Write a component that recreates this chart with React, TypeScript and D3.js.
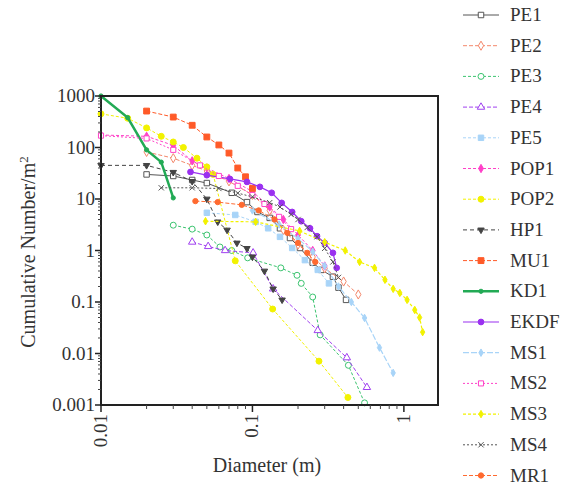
import * as d3 from "d3";

// diameter (m), cumulative number per m2
const PE1 = [[0.02,30],[0.03,28],[0.04,23.4],[0.05,20.4],[0.073,13.2],[0.092,8.7],[0.108,5.6],[0.13,4.3],[0.152,2.7],[0.177,1.75],[0.206,1.12],[0.25,0.58],[0.285,0.42],[0.34,0.31],[0.37,0.19],[0.415,0.11]];
const PE2 = [[0.02,82],[0.03,62],[0.04,45],[0.05,35],[0.07,22],[0.1,12],[0.13,6],[0.16,2.5],[0.2,1.3],[0.25,0.75],[0.3,0.45],[0.4,0.25],[0.5,0.14]];
const PE3 = [[0.03,3.1],[0.04,2.6],[0.05,2.0],[0.061,1.17],[0.073,1.0],[0.093,0.72],[0.154,0.46],[0.197,0.33],[0.21,0.23],[0.25,0.125],[0.28,0.023],[0.43,0.0059],[0.55,0.0011]];
const PE4 = [[0.04,1.46],[0.051,1.2],[0.066,1.0],[0.101,0.9],[0.137,0.18],[0.27,0.028],[0.42,0.0083],[0.57,0.0022]];
const PE5 = [[0.05,5.4],[0.077,4.9],[0.105,3.6],[0.127,2.7],[0.152,1.84],[0.183,1.12],[0.222,0.65],[0.27,0.42],[0.32,0.23]];
const POP1 = [[0.01,175],[0.02,165],[0.03,110],[0.04,55],[0.05,40],[0.07,25],[0.1,14],[0.13,7],[0.16,4],[0.2,2],[0.25,1.0],[0.3,0.5]];
const POP2 = [[0.01,450],[0.015,370],[0.02,240],[0.025,165],[0.03,128],[0.035,100],[0.043,62],[0.05,42],[0.055,30],[0.077,0.63],[0.136,0.073],[0.275,0.0071],[0.427,0.0014]];
const HP1 = [[0.01,45],[0.02,45],[0.03,33],[0.04,22],[0.05,10],[0.059,3.6],[0.068,2.5],[0.079,1.4],[0.092,1.1],[0.1,0.75],[0.12,0.4],[0.137,0.18],[0.157,0.11]];
const MU1 = [[0.02,510],[0.03,390],[0.04,270],[0.05,160],[0.06,112],[0.07,78],[0.08,40],[0.09,27],[0.1,16]];
const KD1 = [[0.01,1000],[0.015,380],[0.02,90],[0.025,52],[0.03,10.5]];
const EKDF = [[0.039,33.5],[0.05,29],[0.071,24.5],[0.092,21.5],[0.112,17.2],[0.134,13.2],[0.156,8.4],[0.183,5.6],[0.21,3.7],[0.24,2.7],[0.267,1.9],[0.3,1.4],[0.34,0.9],[0.36,0.46]];
const MS1 = [[0.1,6],[0.15,3.2],[0.2,1.7],[0.25,0.95],[0.3,0.5],[0.37,0.2],[0.45,0.1],[0.55,0.049],[0.69,0.013],[0.85,0.0042]];
const MS2 = [[0.01,170],[0.02,150],[0.03,90],[0.045,45],[0.06,28],[0.08,18],[0.1,12],[0.12,8],[0.15,4.5],[0.18,2.6]];
const MS3 = [[0.049,3.7],[0.105,3.6],[0.205,2.4],[0.3,1.45],[0.41,1.0],[0.51,0.6],[0.64,0.46],[0.75,0.27],[0.85,0.18],[0.94,0.15],[1.05,0.11],[1.18,0.07],[1.27,0.05],[1.33,0.026]];
const MS4 = [[0.025,16.5],[0.04,16.5],[0.06,16],[0.08,13],[0.1,11],[0.13,8.5],[0.152,7],[0.18,5],[0.2,4],[0.23,2.8],[0.267,1.85],[0.3,1.1],[0.34,0.6],[0.37,0.3]];
const MR1 = [[0.042,9.1],[0.059,8.7],[0.085,7.7],[0.11,6],[0.14,4],[0.17,2.2],[0.2,1.4],[0.23,0.9],[0.26,0.6]];

const yTicks = [1000, 100, 10, 1, 0.1, 0.01, 0.001];
const yTickLabels = ["1000", "100", "10", "1", "0.1", "0.01", "0.001"];
const xTicks = [0.01, 0.1, 1];
const xTickLabels = ["0.01", "0.1", "1"];

const series = [
  { name: "PE1", data: PE1, color: "#555555", dash: "", width: 1, symbol: d3.symbolSquare, fill: false, size: 30 },
  { name: "PE2", data: PE2, color: "#f4886c", dash: "4,2", width: 1, symbol: d3.symbolDiamond, fill: false, size: 24 },
  { name: "PE3", data: PE3, color: "#3cc470", dash: "3,2", width: 1, symbol: d3.symbolCircle, fill: false, size: 28 },
  { name: "PE4", data: PE4, color: "#a040f0", dash: "4,2", width: 1, symbol: d3.symbolTriangle, fill: false, size: 24 },
  { name: "PE5", data: PE5, color: "#a8d4f8", dash: "3,2", width: 1, symbol: d3.symbolSquare, fill: true, size: 30 },
  { name: "POP1", data: POP1, color: "#ff40c8", dash: "3,2", width: 1, symbol: d3.symbolDiamond, fill: true, size: 20 },
  { name: "POP2", data: POP2, color: "#f2f200", dash: "3,2", width: 1, symbol: d3.symbolCircle, fill: true, size: 28 },
  { name: "HP1", data: HP1, color: "#444444", dash: "4,3", width: 1, symbol: d3.symbolTriangle, fill: true, size: 18, flip: true },
  { name: "MU1", data: MU1, color: "#ff5a28", dash: "4,2", width: 1, symbol: d3.symbolSquare, fill: true, size: 34 },
  { name: "KD1", data: KD1, color: "#22aa55", dash: "", width: 2.5, symbol: d3.symbolCircle, fill: true, size: 14 },
  { name: "EKDF", data: EKDF, color: "#9a30f0", dash: "", width: 1.2, symbol: d3.symbolCircle, fill: true, size: 26 },
  { name: "MS1", data: MS1, color: "#a8d4f8", dash: "6,2", width: 1.2, symbol: d3.symbolDiamond, fill: true, size: 16 },
  { name: "MS2", data: MS2, color: "#ff40c8", dash: "2,2", width: 1, symbol: d3.symbolSquare, fill: false, size: 26 },
  { name: "MS3", data: MS3, color: "#f2f200", dash: "3,2", width: 1.2, symbol: d3.symbolDiamond, fill: true, size: 16 },
  { name: "MS4", data: MS4, color: "#555555", dash: "2,2", width: 1, symbol: d3.symbolTimes, fill: false, size: 20 },
  { name: "MR1", data: MR1, color: "#ff6a30", dash: "4,2", width: 1, symbol: d3.symbolCircle, fill: true, size: 22 },
];

const left = 101, right = 438, top = 96, bottom = 405;

export default function App() {
  const x = d3.scaleLog().domain([0.01, 1.68]).range([left, right]);
  const y = d3.scaleLog().domain([0.001, 1000]).range([bottom, top]);
  const line = d3.line<number[]>().x(d => x(d[0])).y(d => y(d[1]));

  const yMinor: number[] = [];
  [0.001, 0.01, 0.1, 1, 10, 100].forEach(b => { for (let k = 2; k < 10; k++) yMinor.push(b * k); });
  const xMinor: number[] = [];
  [0.01, 0.1, 1].forEach(b => { for (let k = 2; k < 10; k++) if (b * k < 1.68) xMinor.push(b * k); });

  const font = "Liberation Serif, DejaVu Serif, serif";

  function marker(s: any, cx: number, cy: number, key: any) {
    const path = d3.symbol().type(s.symbol).size(s.size)();
    return (
      <path key={key} d={path || ""} transform={`translate(${cx},${cy})${s.flip ? " rotate(180)" : ""}`}
        fill={s.fill ? s.color : "white"} stroke={s.color} strokeWidth={1} />
    );
  }

  return (
    <svg width={565} height={484} style={{ position: "absolute", left: 0, top: 0, background: "white", fontFamily: font }}>
      <rect x={0} y={0} width={565} height={484} fill="white" />

      {series.map((s) => (
        <g key={s.name}>
          <path d={line(s.data) || ""} fill="none" stroke={s.color} strokeWidth={s.width} strokeDasharray={s.dash} />
          {s.data.map((d, j) => marker(s, x(d[0]), y(d[1]), j))}
        </g>
      ))}

      {/* frame */}
      <rect x={left} y={top} width={right - left} height={bottom - top} fill="none" stroke="#222" strokeWidth={2} />

      {/* y axis */}
      {yTicks.map((v, i) => (
        <g key={"yt" + i}>
          <line x1={left - 6} x2={left} y1={y(v)} y2={y(v)} stroke="#222" strokeWidth={1.5} />
          <text x={95} y={y(v) + 6} fontSize={19} textAnchor="end" fill="#333" style={{ fontFamily: font }}>{yTickLabels[i]}</text>
        </g>
      ))}
      {yMinor.map((v, i) => (
        <line key={"ym" + i} x1={left - 3} x2={left} y1={y(v)} y2={y(v)} stroke="#444" strokeWidth={1} />
      ))}

      {/* x axis */}
      {xTicks.map((v, i) => (
        <g key={"xt" + i}>
          <line x1={x(v)} x2={x(v)} y1={bottom} y2={bottom + 7} stroke="#222" strokeWidth={1.5} />
          <text transform={`translate(${x(v) + 6},${bottom + 9}) rotate(-90)`} fontSize={19} textAnchor="end" fill="#333" style={{ fontFamily: font }}>{xTickLabels[i]}</text>
        </g>
      ))}
      {xMinor.map((v, i) => (
        <line key={"xm" + i} x1={x(v)} x2={x(v)} y1={bottom} y2={bottom + 4} stroke="#444" strokeWidth={1} />
      ))}

      <text x={267} y={472} fontSize={20} textAnchor="middle" fill="#333" style={{ fontFamily: font }}>Diameter (m)</text>
      <text transform="translate(35,252) rotate(-90)" fontSize={20} textAnchor="middle" fill="#333" style={{ fontFamily: font }}>
        Cumulative Number/m<tspan dy={-7} fontSize={13}>2</tspan>
      </text>

      {/* legend */}
      {series.map((s, i) => {
        const ly = 15 + i * 30.7;
        return (
          <g key={"lg" + s.name}>
            <line x1={463} x2={499} y1={ly} y2={ly} stroke={s.color} strokeWidth={s.width} strokeDasharray={s.dash} />
            {marker(s, 481, ly, "m")}
            <text x={510} y={ly + 6} fontSize={19} fill="#333" style={{ fontFamily: font }}>{s.name}</text>
          </g>
        );
      })}
    </svg>
  );
}
